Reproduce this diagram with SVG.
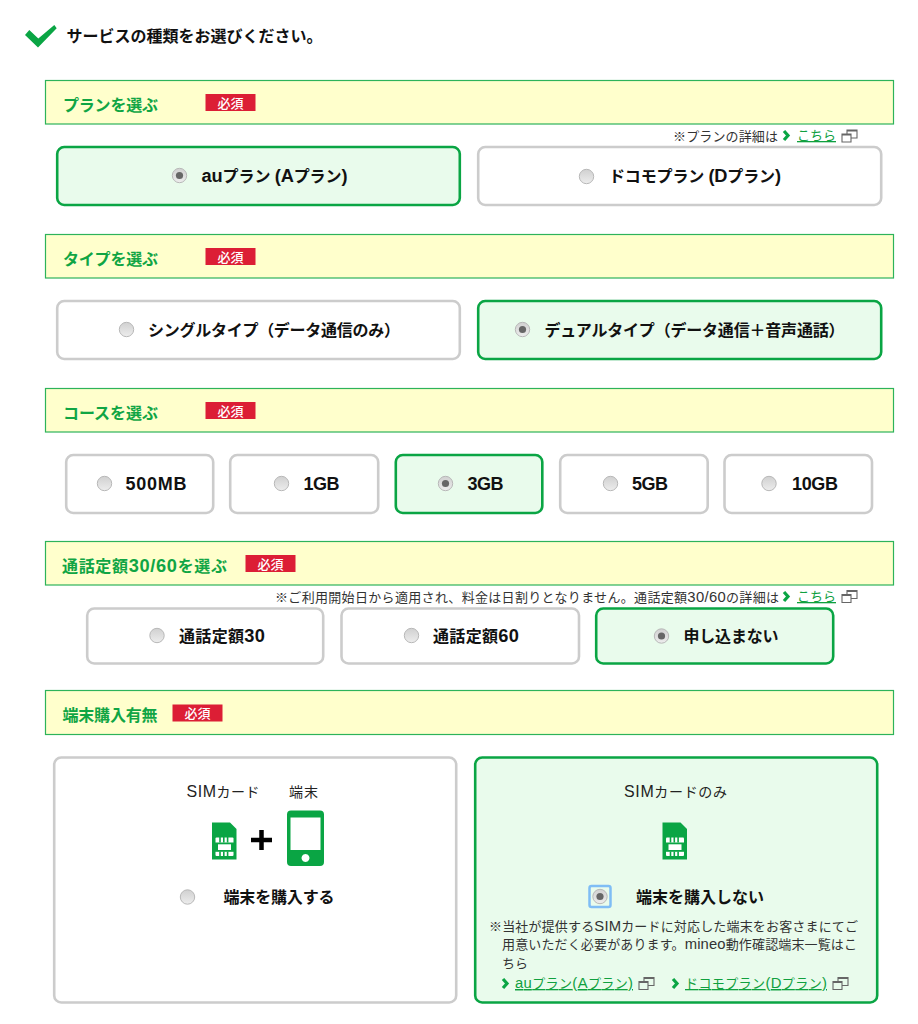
<svg xmlns="http://www.w3.org/2000/svg" width="918" height="1024" viewBox="0 0 918 1024">
<style>
text{font-family:"Liberation Sans","Noto Sans CJK JP",sans-serif;fill:#1a1a1a}
.b{font-weight:700;font-size:16px;fill:#111}
.h{font-weight:700;font-size:16px;fill:#10a544}
.s{font-size:13px;fill:#333}
.l{font-size:13px;fill:#10a03f;text-decoration:underline}
.c{font-size:14px;fill:#222}
.la{font-size:1.14em}
.req{font-weight:500;font-size:13px;fill:#fff;text-anchor:middle}
.bar{fill:#ffffcc;stroke:#2db35a;stroke-width:1.2}
.redb{fill:#dc1e35}
.off{fill:#fff;stroke:#cccccc;stroke-width:2.6}
.on{fill:#e9fbec;stroke:#0aa544;stroke-width:2.6}
.g{fill:#0aa544}
</style>
<defs>
<linearGradient id="rg" x1="0" y1="0" x2="0" y2="1"><stop offset="0" stop-color="#d0d0d0"/><stop offset="1" stop-color="#ededed"/></linearGradient>
<g id="radio"><circle r="7.200" fill="url(#rg)" stroke="#b8b8b8" stroke-width="1"/></g>
<g id="radioOn"><circle r="7.200" fill="url(#rg)" stroke="#b8b8b8" stroke-width="1"/><circle r="3.600" fill="#666"/></g>
<path id="win" fill="none" stroke="#666" stroke-width="1.100" d="M5.500 5V0.500H15.500V8.500H9.500M5.500 1.500H15.500M0.500 4.500H9.500V12.500H0.500ZM0.500 5.500H9.500"/>
<path id="chev" d="M0.500 0L4.500 4.500L0.500 9" fill="none" stroke="#0aa544" stroke-width="3.200"/>
<g id="sim"><path fill="#0aa544" d="M0 0H18L24.500 6.500V37H0Z"/><rect fill="#fff" x="3.500" y="15" width="18" height="18.500" rx="1"/><g fill="#0aa544"><rect x="7.200" y="14.500" width="1.600" height="5.500"/><rect x="11" y="14.500" width="1.600" height="5.500"/><rect x="14.800" y="14.500" width="1.600" height="5.500"/><rect x="3" y="20" width="19" height="1.800"/><rect x="3" y="27.500" width="19" height="1.800"/><rect x="7.200" y="29" width="1.600" height="5"/><rect x="11" y="29" width="1.600" height="5"/><rect x="14.800" y="29" width="1.600" height="5"/><rect x="3" y="21" width="3" height="7"/><rect x="19" y="21" width="3" height="7"/></g></g>
</defs>

<g id="title">
<polygon class="g" points="25,35 29.300,30 38.300,38.500 54.300,25 56.700,28.300 38,47.500"/>
<text class="b" x="66.500" y="42" textLength="256">サービスの種類をお選びください。</text>
</g>

<g id="section-plan">
<rect class="bar" x="45.500" y="80.500" width="848" height="43.500"/>
<text class="h" x="63" y="110.500" textLength="95">プランを選ぶ</text>
<rect class="redb" x="205.500" y="94" width="50" height="17"/><text class="req" x="230.500" y="107.500">必須</text>
</g>
<g id="plan-note">
<text class="s" x="673" y="141" textLength="105">※プランの詳細は</text>
<use href="#chev" x="783.500" y="131"/>
<text class="l" x="797" y="140" textLength="39">こちら</text>
<use href="#win" x="841.500" y="129.500"/>
</g>
<g id="opt-au"><rect class="on" x="57.200" y="147" width="402.600" height="58" rx="7"/><use href="#radioOn" x="179.500" y="175.500"/><text class="b" x="201.500" y="182" textLength="146"><tspan class="la">au</tspan>プラン <tspan class="la">(A</tspan>プラン<tspan class="la">)</tspan></text></g>
<g id="opt-docomo"><rect class="off" x="478.200" y="147" width="403" height="58" rx="7"/><use href="#radio" x="586.500" y="176.500"/><text class="b" x="609" y="182" textLength="172">ドコモプラン <tspan class="la">(D</tspan>プラン<tspan class="la">)</tspan></text></g>

<g id="section-type">
<rect class="bar" x="45.500" y="234.500" width="848" height="43.500"/>
<text class="h" x="63" y="264.500" textLength="95">タイプを選ぶ</text>
<rect class="redb" x="205.500" y="248" width="50" height="17"/><text class="req" x="230.500" y="261.500">必須</text>
</g>
<g id="opt-single"><rect class="off" x="57.200" y="301" width="402.600" height="58" rx="7"/><use href="#radio" x="126.500" y="329.500"/><text class="b" x="148" y="336" textLength="252">シングルタイプ（データ通信のみ）</text></g>
<g id="opt-dual"><rect class="on" x="478.200" y="301" width="403" height="58" rx="7"/><use href="#radioOn" x="522.500" y="329.500"/><text class="b" x="544.500" y="336" textLength="300">デュアルタイプ（データ通信＋音声通話）</text></g>

<g id="section-course">
<rect class="bar" x="45.500" y="388.500" width="848" height="43.500"/>
<text class="h" x="63" y="418.500" textLength="95">コースを選ぶ</text>
<rect class="redb" x="205.500" y="402" width="50" height="17"/><text class="req" x="230.500" y="415.500">必須</text>
</g>
<g id="opt-500mb"><rect class="off" x="66.200" y="455" width="147" height="58" rx="7"/><use href="#radio" x="104.500" y="483.500"/><text class="b" style="font-size:18px" x="125.500" y="490" textLength="61">500MB</text></g>
<g id="opt-1gb"><rect class="off" x="230.200" y="455" width="148" height="58" rx="7"/><use href="#radio" x="281.500" y="483.500"/><text class="b" style="font-size:18px" x="303.500" y="490" textLength="36">1GB</text></g>
<g id="opt-3gb"><rect class="on" x="395.800" y="455" width="146.500" height="58" rx="7"/><use href="#radioOn" x="445.500" y="483.500"/><text class="b" style="font-size:18px" x="467.500" y="490" textLength="36">3GB</text></g>
<g id="opt-5gb"><rect class="off" x="560.200" y="455" width="147.500" height="58" rx="7"/><use href="#radio" x="610.500" y="483.500"/><text class="b" style="font-size:18px" x="632" y="490" textLength="36">5GB</text></g>
<g id="opt-10gb"><rect class="off" x="724.500" y="455" width="147.500" height="58" rx="7"/><use href="#radio" x="769" y="483.500"/><text class="b" style="font-size:18px" x="792" y="490" textLength="46">10GB</text></g>

<g id="section-call">
<rect class="bar" x="45.500" y="541.500" width="848" height="43.500"/>
<text class="h" x="62" y="571.500" textLength="165">通話定額<tspan class="la">30/60</tspan>を選ぶ</text>
<rect class="redb" x="245.500" y="555" width="50" height="17"/><text class="req" x="270.500" y="568.500">必須</text>
</g>
<g id="call-note">
<text class="s" x="275" y="602" textLength="504">※ご利用開始日から適用され、料金は日割りとなりません。通話定額<tspan class="la">30/60</tspan>の詳細は</text>
<use href="#chev" x="783.500" y="592"/>
<text class="l" x="797" y="601" textLength="39">こちら</text>
<use href="#win" x="841.500" y="590"/>
</g>
<g id="opt-call30"><rect class="off" x="87.200" y="608.500" width="236" height="55" rx="7"/><use href="#radio" x="157" y="635.500"/><text class="b" x="179" y="641.500" textLength="86">通話定額<tspan class="la">30</tspan></text></g>
<g id="opt-call60"><rect class="off" x="341.500" y="608.500" width="237.500" height="55" rx="7"/><use href="#radio" x="411.500" y="635.500"/><text class="b" x="433" y="641.500" textLength="86">通話定額<tspan class="la">60</tspan></text></g>
<g id="opt-none"><rect class="on" x="596.200" y="608.500" width="237" height="55" rx="7"/><use href="#radioOn" x="661.500" y="636"/><text class="b" x="683.500" y="641.500" textLength="95">申し込まない</text></g>

<g id="section-device">
<rect class="bar" x="45.500" y="690.500" width="848" height="44"/>
<text class="h" x="62.500" y="720.500" textLength="95">端末購入有無</text>
<rect class="redb" x="172.500" y="704.500" width="50" height="17"/><text class="req" x="197.500" y="718">必須</text>
</g>

<g id="opt-buy">
<rect class="off" x="54.200" y="757.500" width="402" height="245" rx="7"/>
<text class="c" x="186.500" y="797" textLength="73"><tspan class="la">SIM</tspan>カード</text>
<text class="c" x="289" y="797" textLength="29">端末</text>
<use href="#sim" x="212" y="822.500"/>
<path d="M261.500 830V850M251 840H272" stroke="#000" stroke-width="4.500" fill="none"/>
<path class="g" fill-rule="evenodd" d="M291 810.500H320a4 4 0 0 1 4 4V862a4 4 0 0 1-4 4H291a4 4 0 0 1-4-4V814.500a4 4 0 0 1 4-4ZM290.500 817.500V850H320.500V817.500ZM305.500 854a4 4 0 1 0 .01 0Z"/>
<use href="#radio" x="187.500" y="897"/>
<text class="b" x="223.500" y="903" textLength="111">端末を購入する</text>
</g>

<g id="opt-sim">
<rect class="on" x="475.200" y="757.500" width="402" height="245" rx="7"/>
<text class="c" x="624" y="796.500" textLength="103"><tspan class="la">SIM</tspan>カードのみ</text>
<use href="#sim" x="662.500" y="822.500"/>
<rect x="589.500" y="886" width="21" height="21" rx="2" fill="none" stroke="#7fbdf5" stroke-width="2.500"/>
<use href="#radioOn" x="600" y="896.500"/>
<text class="b" x="636" y="903" textLength="128">端末を購入しない</text>
<text class="s" x="489" y="931" textLength="369">※当社が提供する<tspan class="la">SIM</tspan>カードに対応した端末をお客さまにてご</text>
<text class="s" x="502" y="949" textLength="355">用意いただく必要があります。<tspan class="la">mineo</tspan>動作確認端末一覧はこ</text>
<text class="s" x="502" y="968" textLength="26">ちら</text>
<use href="#chev" x="502.500" y="979"/>
<text class="l" x="515" y="988" textLength="118"><tspan class="la">au</tspan>プラン<tspan class="la">(A</tspan>プラン<tspan class="la">)</tspan></text>
<use href="#win" x="638.500" y="977"/>
<use href="#chev" x="672.500" y="979"/>
<text class="l" x="685" y="988" textLength="142">ドコモプラン<tspan class="la">(D</tspan>プラン<tspan class="la">)</tspan></text>
<use href="#win" x="832.500" y="977"/>
</g>
</svg>
